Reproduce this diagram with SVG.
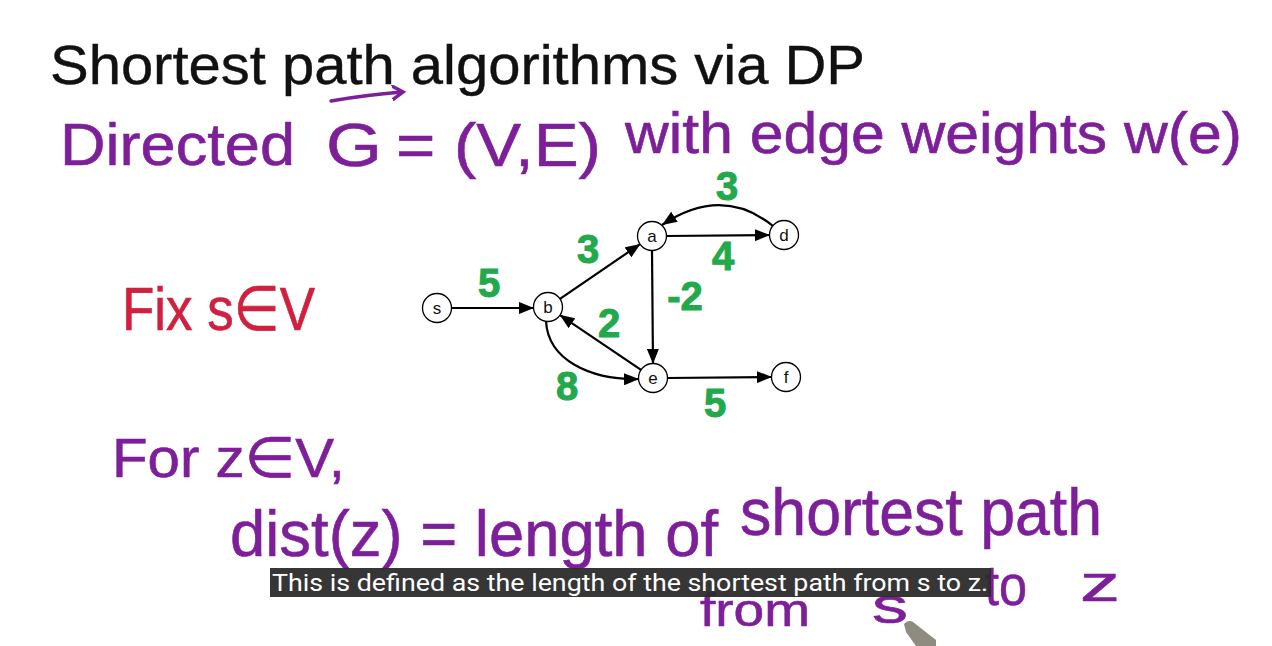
<svg xmlns="http://www.w3.org/2000/svg" width="1272" height="646" viewBox="0 0 1272 646">
<defs>
<style>
.hw{font-family:"Liberation Sans","DejaVu Sans",sans-serif;}
.blk{fill:#111;stroke:#111;stroke-width:0.4;}
.pur{fill:#7e1f9a;stroke:#7e1f9a;stroke-width:0.6;}
.red{fill:#d1203f;stroke:#d1203f;stroke-width:0.6;}
.grn{fill:#22a94c;stroke:#22a94c;stroke-width:1;font-family:"Liberation Sans",sans-serif;font-size:40px;font-weight:bold;text-anchor:middle;}
.node circle{fill:#fff;stroke:#000;stroke-width:1.3;}
.node text{font-family:"Liberation Sans",Arial,sans-serif;font-size:17px;text-anchor:middle;fill:#111;}
.edge{fill:none;stroke:#000;stroke-width:2.2;marker-end:url(#arr);}
</style>
<marker id="arr" markerUnits="userSpaceOnUse" markerWidth="16" markerHeight="12" refX="15" refY="6" orient="auto">
<path d="M0,0 L15,6 L0,12 Z" fill="#000"/>
</marker>
<marker id="parr" markerUnits="userSpaceOnUse" markerWidth="16" markerHeight="16" refX="10" refY="8" orient="auto">
<path d="M0,1 L11,8 L0,15" fill="none" stroke="#7e1f9a" stroke-width="3.5" stroke-linecap="round"/>
</marker>
</defs>
<rect width="1272" height="646" fill="#fff"/>

<!-- headings -->
<g id="title">
<text class="hw blk" x="50" y="84" font-size="56" textLength="815" lengthAdjust="spacingAndGlyphs">Shortest path algorithms via DP</text>
</g>
<g id="line2">
<text class="hw pur" x="60" y="165" font-size="60" textLength="235" lengthAdjust="spacingAndGlyphs">Directed</text>
<text class="hw pur" x="326" y="166" font-size="62" textLength="56" lengthAdjust="spacingAndGlyphs">G</text>
<path d="M331,101 Q365,95 402,92" fill="none" stroke="#7e1f9a" stroke-width="3.5" stroke-linecap="round" marker-end="url(#parr)"/>
<text class="hw pur" x="396" y="166" font-size="62" textLength="205" lengthAdjust="spacingAndGlyphs">= (V,E)</text>
<text class="hw pur" x="625" y="153" font-size="58" textLength="617" lengthAdjust="spacingAndGlyphs">with edge weights w(e)</text>
</g>
<g id="fix">
<text class="hw red" x="122" y="330" font-size="62" textLength="193" lengthAdjust="spacingAndGlyphs">Fix s∈V</text>
</g>
<g id="forz">
<text class="hw pur" x="112" y="477" font-size="56" textLength="233" lengthAdjust="spacingAndGlyphs">For z∈V,</text>
</g>
<g id="dist">
<text class="hw pur" x="230" y="556" font-size="64" textLength="488" lengthAdjust="spacingAndGlyphs">dist(z) = length of</text>
<text class="hw pur" x="740" y="535" font-size="66" textLength="362" lengthAdjust="spacingAndGlyphs">shortest path</text>
<text class="hw pur" x="700" y="626" font-size="46" textLength="110" lengthAdjust="spacingAndGlyphs">from</text>
<text class="hw pur" x="872" y="623" font-size="50" textLength="36" lengthAdjust="spacingAndGlyphs">s</text>
<text class="hw pur" x="985" y="605" font-size="58" textLength="42" lengthAdjust="spacingAndGlyphs">to</text>
<text class="hw pur" x="1080" y="601" font-size="52" textLength="40" lengthAdjust="spacingAndGlyphs">z</text>
</g>

<!-- connectors -->
<g id="connectors">
<line class="edge" x1="451" y1="308" x2="534" y2="308"/>
<line class="edge" x1="559.6" y1="299.1" x2="640.4" y2="243.9"/>
<line class="edge" x1="666" y1="236" x2="770" y2="235"/>
<line class="edge" x1="652" y1="250" x2="653" y2="364"/>
<line class="edge" x1="641.4" y1="370.2" x2="559.6" y2="314.8"/>
<line class="edge" x1="667" y1="378" x2="772" y2="377"/>
<path class="edge" d="M773,226 Q722,185 662,225"/>
<path class="edge" d="M546,321 C548,360 590,380 639,379"/>
</g>

<!-- nodes -->
<g id="node-s" class="node"><circle cx="437" cy="308" r="14.5"/><text x="437" y="314">s</text></g>
<g id="node-b" class="node"><circle cx="548" cy="307" r="14.5"/><text x="548" y="313">b</text></g>
<g id="node-a" class="node"><circle cx="652" cy="236" r="14.5"/><text x="652" y="242">a</text></g>
<g id="node-d" class="node"><circle cx="784" cy="235" r="14.5"/><text x="784" y="241">d</text></g>
<g id="node-e" class="node"><circle cx="653" cy="378" r="14.5"/><text x="653" y="384">e</text></g>
<g id="node-f" class="node"><circle cx="786" cy="377" r="14.5"/><text x="786" y="383">f</text></g>

<!-- weights -->
<g id="weights">
<text class="grn" x="489" y="297">5</text>
<text class="grn" x="588" y="263">3</text>
<text class="grn" x="727" y="200" font-size="36">3</text>
<text class="grn" x="723" y="270">4</text>
<text class="grn" x="685" y="310">-2</text>
<text class="grn" x="609" y="337" font-size="34">2</text>
<text class="grn" x="567" y="400" font-size="36">8</text>
<text class="grn" x="715" y="417">5</text>
</g>

<!-- caption -->
<g id="caption">
<rect x="270" y="568" width="721" height="29" fill="#2b2b2b" fill-opacity="0.95"/>
<text x="272" y="591" font-family="Roboto,'Liberation Sans',Arial,sans-serif" font-size="23" fill="#fff" textLength="716" lengthAdjust="spacingAndGlyphs">This is defined as the length of the shortest path from s to z.</text>
</g>

<!-- pen pointer -->
<g id="pointer">
<path d="M904,624 Q908,619 913,622 L936,640 L936,646 L916,646 L906,632 Z" fill="#8e8c80"/>
</g>
</svg>
